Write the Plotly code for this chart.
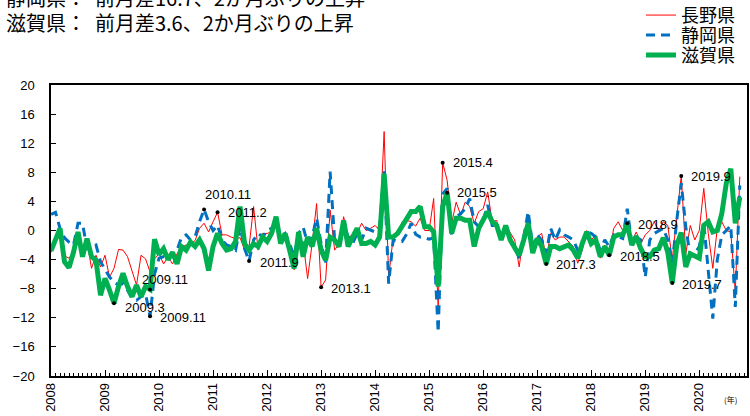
import plotly.graph_objects as go

# monthly values, Jan 2008 .. Oct 2020
nagano = [
    -3.0, -1.5, 0.0, -3.5, -3.8, -3.0, -1.0, -2.5, -1.5, -5.2, -3.4, -5.0,
    -3.4, -6.4, -5.2, -2.6, -2.7, -3.6, -5.7, -7.5, -3.4, -3.9, -5.7, -3.9,
    -3.2, -4.6, -3.6, -4.6, -3.2, -2.3, -2.0, -1.8, -1.4, 0.3, 1.0, -0.2,
    1.2, 2.5, -0.6, -0.6, -0.9, -1.1, -1.0, -2.7, -2.2, 3.3, -2.7, -0.4,
    -0.4, -0.2, 1.0, -1.1, -1.3, -2.7, -5.4, -2.2, -1.5, -6.6, -1.8, 3.7,
    -7.8, -6.8, 2.8, -2.7, -1.8, 1.9, -0.9, -0.6, -0.4, 1.0, 0.0, 0.3,
    0.7, 0.0, 13.6, -6.5, -0.9, -0.6, 1.2, 1.4, 1.2, 0.6, 1.7, 0.0,
    0.0, 4.4, -10.5, 9.3, 6.9, 1.0, 3.9, 2.1, 3.9, 3.3, 1.0, 2.6,
    3.0, 5.3, 1.2, 1.4, -1.3, 0.7, -0.4, -1.3, -5.0, -0.4, 1.4, -2.7,
    -0.9, -0.4, -3.8, -0.4, -1.3, -0.9, -0.9, -1.5, -2.2, -4.5, -2.7, 0.0,
    -1.3, -0.6, -3.8, -2.0, -3.1, 0.3, 1.2, 0.0, 1.0, -1.5, -0.2, -1.8,
    -0.6, 0.0, 1.2, 0.0, 1.2, 0.7, -4.0, 1.9, 7.5, -3.2, 0.7, -1.3,
    0.0, 5.8, -0.4, -5.2, 0.3, 1.2, 0.0, -0.2, -8.4, 7.4,
]
shizuoka = [
    2.2, 2.5, 0.3, -1.0, -1.6, -2.0, 1.0, 1.0, -2.5, -2.3, -2.0, -4.3,
    -5.4, -6.4, -7.1, -7.5, -7.3, -8.2, -9.3, -9.6, -9.1, -8.7, -11.8, -6.0,
    -3.8, -3.6, -4.1, -3.2, -2.7, -0.9, -0.6, -1.3, -0.9, 1.2, 2.9, 1.2,
    0.0, 0.7, -1.3, -2.0, -2.2, -2.7, 0.5, -2.5, -4.2, -1.3, -0.4, -0.9,
    0.0, 0.3, 1.2, -0.9, -0.4, -1.8, -3.6, -0.4, 0.5, -1.8, -0.9, 1.7,
    -1.8, -4.5, 8.1, -1.3, -1.8, 1.0, -0.9, -1.8, -0.4, -1.3, 0.3, 0.0,
    -0.2, 0.5, 8.3, -7.3, -1.3, -1.5, -1.5, -0.5, 1.0, -0.5, -0.9, -1.0,
    -1.2, -1.0, -14.0, 5.0, 5.8, -0.6, 1.9, 2.3, 3.0, 4.4, 1.2, 0.5,
    1.4, 3.5, 0.7, 0.7, -0.9, 0.5, -1.3, -2.2, -3.8, -0.9, 2.6, -2.2,
    -0.6, -1.3, -3.1, 0.3, -1.3, 0.1, -0.6, -0.9, -1.3, -2.7, -2.0, -0.2,
    -0.4, -0.9, -2.7, -1.3, -2.2, -0.6, -0.9, -1.1, 3.0, -1.8, -0.9, -1.3,
    -6.4, -1.3, -0.4, 0.0, 0.3, -1.3, -4.5, 1.4, 6.5, 0.5, -3.6, -3.2,
    -2.2, 1.0, -5.9, -12.1, -4.0, -0.6, 0.0, 0.7, -10.5, 6.2,
]
shiga = [
    -2.8, -1.2, 0.3, -4.3, -5.1, -3.0, -0.2, -3.6, -1.1, -3.6, -4.1, -8.9,
    -6.6, -8.2, -10.0, -7.7, -5.9, -7.7, -9.1, -7.5, -9.1, -7.7, -8.1, -1.2,
    -3.3, -2.5, -4.0, -3.0, -4.6, -2.2, -2.7, -1.6, -2.2, -1.3, -2.5, -5.5,
    -2.2, -0.4, -1.8, -2.7, -2.5, -1.5, 3.3, -1.8, -2.7, -1.8, -2.2, -0.9,
    -1.5, -0.4, 1.9, -1.8, -0.4, -2.7, -5.2, -0.2, -3.6, -0.9, -2.2, 0.3,
    -2.7, -4.1, -0.9, -1.3, -2.2, 1.4, -2.2, -0.9, 0.3, -1.8, -1.8, -1.5,
    -2.0, -0.9, 7.8, -0.9, -0.9, -0.4, 0.5, 1.7, 2.6, 2.6, 3.3, 0.5,
    0.5, -0.2, -7.7, 3.3, 5.2, -0.4, 1.7, 1.7, 1.4, 1.4, -2.2, 0.3,
    1.4, 2.6, 1.2, 0.7, -1.3, 0.7, -1.3, -2.5, -3.4, -1.3, 1.0, -3.1,
    -1.1, -2.2, -4.6, -2.2, -2.2, -2.5, -2.2, -2.0, -2.7, -3.8, -1.8, -0.2,
    -1.8, -1.3, -3.6, -2.2, -3.4, -0.9, -0.6, -0.6, 0.9, -2.0, -0.8, -2.5,
    -3.6, -3.6, -2.7, -2.5, -1.0, -3.0, -7.2, -2.0, -0.3, -5.0, -3.2, -3.6,
    -3.8, 0.7, 1.2, -0.2, 0.0, 2.3, 6.5, 8.5, 1.0, 4.6,
]
years = list(range(2008, 2021))
months = list(range(len(shiga)))

# labelled points: (label, series, month index, xshift, yshift)
callouts = [
    ("2009.3", shiga, 14, 9, -4),
    ("2009.11", shiga, 22, -10, 10),
    ("2009.11", shizuoka, 22, 8, -1),
    ("2010.11", shizuoka, 34, -1, 15),
    ("2011.2", nagano, 37, 8, 0),
    ("2011.9", shizuoka, 44, 9, -1),
    ("2013.1", nagano, 60, 8, -1),
    ("2015.4", nagano, 87, 8, 0),
    ("2015.5", shiga, 88, 8, 0),
    ("2017.3", shiga, 110, 8, -1),
    ("2018.5", shiga, 124, 9, -1),
    ("2018.9", nagano, 128, 9, -1),
    ("2019.7", shiga, 138, 8, -2),
    ("2019.9", nagano, 140, 8, -1),
]

JP = "Noto Sans CJK JP"
NUM = "Liberation Sans"

fig = go.Figure()
fig.add_trace(go.Scatter(x=months, y=nagano, mode="lines", name="長野県",
                         legend="legend",
                         line={"color": "#ff0000", "width": 1}))
fig.add_trace(go.Scatter(x=months, y=shizuoka, mode="lines", name="静岡県",
                         legend="legend2",
                         line={"color": "#0070c0", "width": 3, "dash": "9px,6px"}))
fig.add_trace(go.Scatter(x=months, y=shiga, mode="lines", name="滋賀県",
                         legend="legend3",
                         line={"color": "#00b050", "width": 5}))
fig.add_trace(go.Scatter(
    x=[c[2] for c in callouts], y=[c[1][c[2]] for c in callouts],
    mode="markers", marker={"color": "black", "size": 4},
    showlegend=False, hoverinfo="skip",
))

for label, series, idx, dx, dy in callouts:
    fig.add_annotation(x=idx, y=series[idx], text=label, showarrow=False,
                       xanchor="left", yanchor="middle", xshift=dx, yshift=dy,
                       font={"family": NUM, "size": 13, "color": "black"})

fig.add_annotation(xref="paper", yref="paper", x=-0.068, y=1.301,
                   text="静岡県：  前月差16.7、2か月ぶりの上昇", showarrow=False,
                   xanchor="left", yanchor="middle",
                   font={"family": JP, "size": 20, "color": "black"})
fig.add_annotation(xref="paper", yref="paper", x=-0.068, y=1.215,
                   text="滋賀県：  前月差3.6、2か月ぶりの上昇", showarrow=False,
                   xanchor="left", yanchor="middle",
                   font={"family": JP, "size": 20, "color": "black"})
fig.add_annotation(xref="paper", yref="paper", x=0.977, y=-0.106,
                   text="(年)", showarrow=False, xanchor="center",
                   font={"family": JP, "size": 8, "color": "black"})

legend_style = {"x": 0.8477, "xanchor": "left", "yanchor": "middle",
                "font": {"family": JP, "size": 18}, "bgcolor": "rgba(0,0,0,0)",
                "itemwidth": 30}
fig.update_layout(
    width=750, height=416,
    margin={"l": 51, "r": 3, "t": 85, "b": 40, "autoexpand": False},
    paper_bgcolor="white", plot_bgcolor="white",
    font={"family": NUM, "color": "black"},
    legend={**legend_style, "y": 1.2393},
    legend2={**legend_style, "y": 1.1706},
    legend3={**legend_style, "y": 1.1020},
    showlegend=True,
)
fig.update_xaxes(
    range=[0, 154.6], tickvals=[12 * k for k in range(len(years))],
    ticktext=[str(y) for y in years], tickangle=-90,
    ticks="inside", ticklen=6, tickcolor="black",
    minor={"dtick": 1, "ticks": "inside", "ticklen": 3, "tickcolor": "black"},
    showline=True, linecolor="black", linewidth=1.5, mirror=True,
    showgrid=False, zeroline=False, tickfont={"size": 13},
)
fig.update_yaxes(
    range=[-20, 20], dtick=4, ticks="inside", ticklen=5, tickcolor="black",
    showline=True, linecolor="black", linewidth=1.5, mirror=True,
    showgrid=False, zeroline=False, tickfont={"size": 13},
    ticklabelstandoff=12,
)

fig.write_html("out.html", config={"displayModeBar": False},
               post_script="document.body.style.margin='0';")
